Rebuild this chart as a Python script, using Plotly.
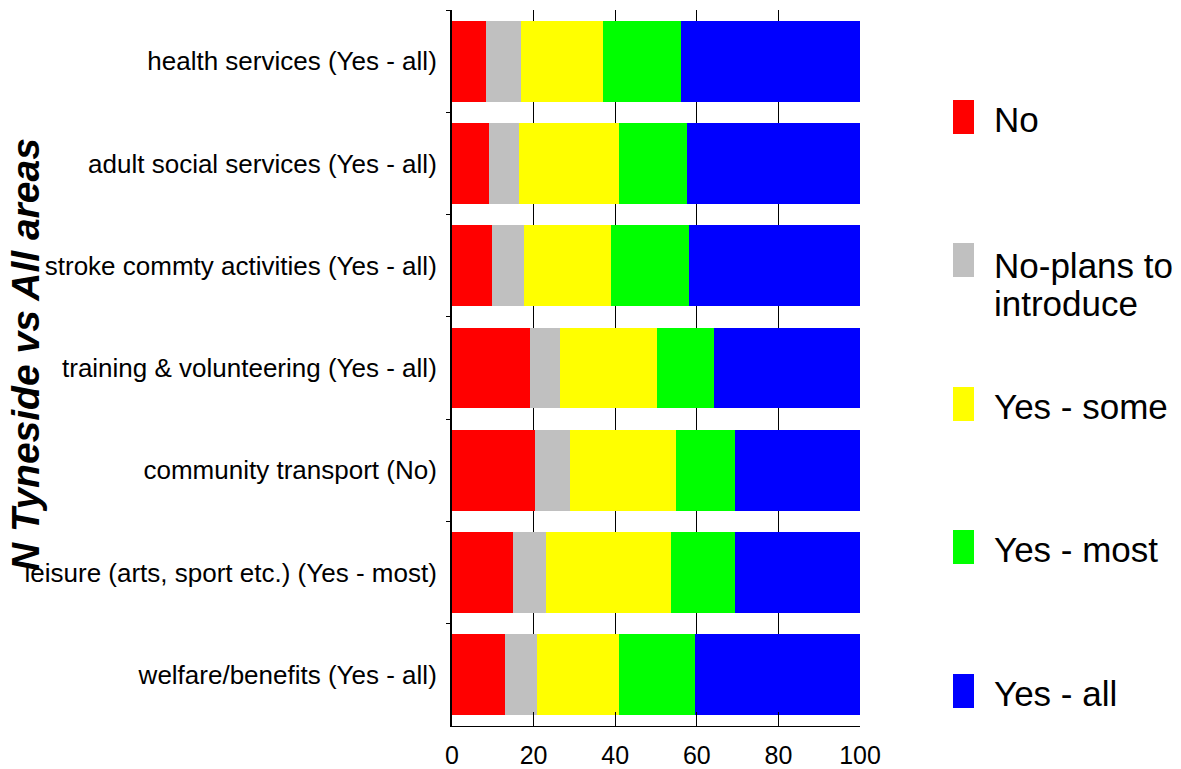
import plotly.graph_objects as go

categories = [
    "health services (Yes - all)",
    "adult social services (Yes - all)",
    "stroke commty activities (Yes - all)",
    "training & volunteering (Yes - all)",
    "community transport (No)",
    "leisure (arts, sport etc.) (Yes - most)",
    "welfare/benefits (Yes - all)",
]
series_names = ["No", "No-plans to<br>introduce", "Yes - some", "Yes - most", "Yes - all"]
colors = ["#ff0000", "#c0c0c0", "#ffff00", "#00ff00", "#0000ff"]

no_vals = [8.3, 9.1, 9.7, 19.0, 20.4, 15.0, 13.0]
noplans_vals = [8.6, 7.3, 8.0, 7.4, 8.5, 8.0, 7.9]
some_vals = [20.0, 24.5, 21.2, 23.8, 26.0, 30.6, 20.0]
most_vals = [19.2, 16.7, 19.3, 13.9, 14.5, 15.8, 18.7]
all_vals = [43.9, 42.4, 41.8, 35.9, 30.6, 30.6, 40.4]
series_values = [no_vals, noplans_vals, some_vals, most_vals, all_vals]

x_ticks = [0, 20, 40, 60, 80, 100]
y_title = "N Tyneside vs All areas"

W, H = 1181, 769
L, R, T, B = 452, 860, 10, 726

fig = go.Figure()
for name, col, vals in zip(series_names, colors, series_values):
    fig.add_trace(go.Bar(
        y=categories, x=vals, orientation="h", name=name.replace("<br>", " "),
        marker=dict(color=col, line=dict(width=0)), showlegend=False,
    ))

font_family = "Liberation Sans, Arial, sans-serif"

def pxx(page_x):
    return (page_x - L) / (R - L)

def pxy(page_y):
    return (B - page_y) / (B - T)

shapes = []
annotations = []
leg_tops = [100, 243, 387, 530, 674]
for i, (name, col) in enumerate(zip(series_names, colors)):
    top = leg_tops[i]
    shapes.append(dict(
        type="rect", xref="paper", yref="paper",
        x0=pxx(953), x1=pxx(974),
        y0=pxy(top + 34), y1=pxy(top),
        fillcolor=col, line=dict(width=0),
    ))
    lines = name.split("<br>")
    first_center = top + 19 if len(lines) == 1 else top + 22
    for j, line in enumerate(lines):
        annotations.append(dict(
            xref="paper", yref="paper",
            x=pxx(992), y=pxy(first_center + 38 * j),
            xanchor="left", yanchor="middle", align="left",
            text=line, showarrow=False,
            font=dict(size=35, color="black", family=font_family),
        ))

annotations.append(dict(
    xref="paper", yref="paper",
    x=pxx(26), y=pxy(355),
    xanchor="center", yanchor="middle",
    text="<b><i>" + y_title + "</i></b>", textangle=-90, showarrow=False,
    font=dict(size=39, color="black", family=font_family),
))

fig.update_layout(
    width=W, height=H,
    margin=dict(l=L, r=W - R, t=T, b=H - B, autoexpand=False),
    barmode="stack", bargap=0.21,
    plot_bgcolor="white", paper_bgcolor="white",
    font=dict(family=font_family, color="black"),
    shapes=shapes, annotations=annotations,
    xaxis=dict(
        range=[0, 100], tickvals=x_ticks, ticktext=[str(v) for v in x_ticks],
        showgrid=True, gridcolor="black", gridwidth=1,
        showline=True, linecolor="black", linewidth=1,
        ticks="inside", ticklen=14, tickcolor="black",
        tickfont=dict(size=25), ticklabelstandoff=7,
        zeroline=False, fixedrange=True,
    ),
    yaxis=dict(
        autorange="reversed", showline=True, linecolor="black", linewidth=2,
        ticks="outside", tickson="boundaries", ticklen=4, tickcolor="black",
        tickfont=dict(size=26), ticklabelstandoff=8,
        showgrid=False, automargin=False, fixedrange=True,
    ),
)

fig.write_html(
    "out.html",
    config={"displayModeBar": False, "staticPlot": True},
    post_script="document.body.style.margin='0';document.body.style.overflow='hidden';",
)
